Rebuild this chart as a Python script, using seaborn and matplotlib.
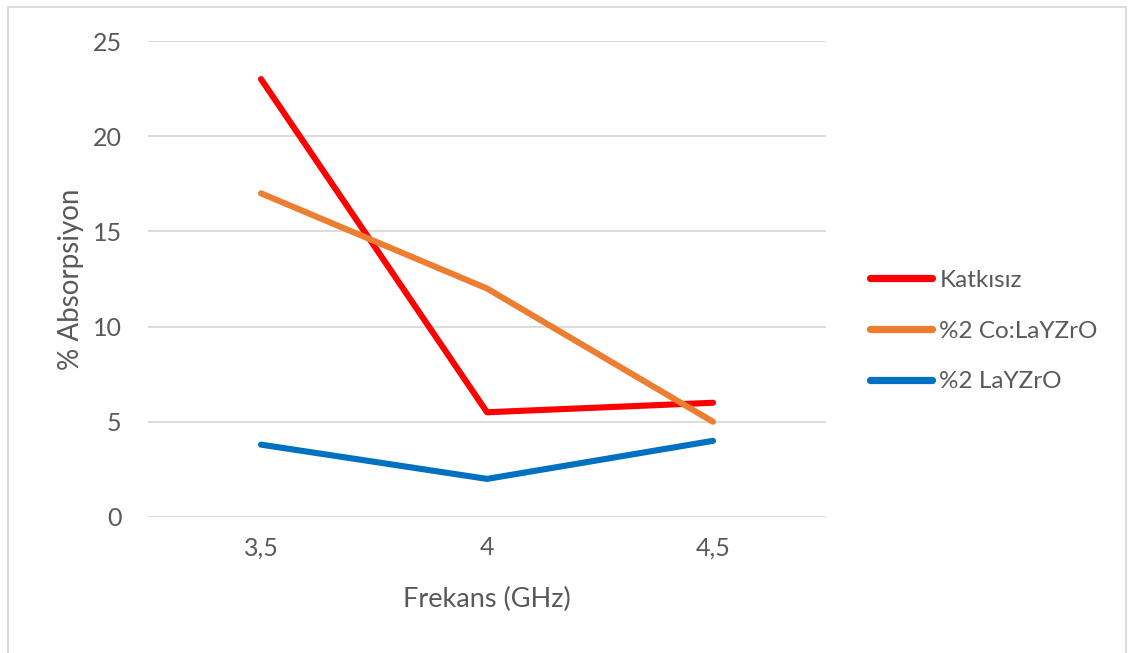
import matplotlib
matplotlib.use("Agg")
import matplotlib.pyplot as plt
import seaborn as sns
import pandas as pd
from matplotlib.patches import Rectangle
from matplotlib.lines import Line2D

frequencies = ["3,5", "4", "4,5"]
katkisiz = [23.0, 5.5, 6.0]
co_layzro = [17.0, 12.0, 5.0]
layzro = [3.8, 2.0, 4.0]

series_names = ["Katkısız", "%2 Co:LaYZrO", "%2 LaYZrO"]
series_colors = ["#FF0000", "#ED7D31", "#0070C0"]

rows = []
for name, vals in zip(series_names, [katkisiz, co_layzro, layzro]):
    for f, v in zip(frequencies, vals):
        rows.append({"Frekans": f, "Absorpsiyon": v, "Seri": name})
df = pd.DataFrame(rows)

sns.set_theme(style="white")
plt.rcParams["font.family"] = ["Lato", "DejaVu Sans"]
text_color = "#595959"

fig = plt.figure(figsize=(11.28, 6.53), dpi=100)
ax = fig.add_axes([0.1312, 0.2083, 0.6011, 0.7289])

sns.lineplot(data=df, x="Frekans", y="Absorpsiyon", hue="Seri",
             hue_order=series_names, palette=series_colors,
             linewidth=4.4, ax=ax, legend=False, sort=False)
for line in ax.lines:
    line.set_solid_capstyle("round")
    line.set_solid_joinstyle("round")

ax.set_xlim(-0.5, 2.5)
ax.set_ylim(0, 25)
ax.set_yticks([0, 5, 10, 15, 20, 25])
ax.yaxis.grid(True, color="#D9D9D9", linewidth=1.3)
ax.set_axisbelow(True)
for s in ax.spines.values():
    s.set_visible(False)
ax.tick_params(axis="both", length=0, labelsize=18, labelcolor=text_color)
ax.tick_params(axis="y", pad=19)
ax.tick_params(axis="x", pad=14)
ax.set_xlabel("Frekans (GHz)", fontsize=19.5, color=text_color, labelpad=20)
ax.set_ylabel("% Absorpsiyon", fontsize=20, color=text_color, labelpad=6)

handles = [Line2D([0], [0], color=c, linewidth=5.2, solid_capstyle="round")
           for c in series_colors]
leg = fig.legend(handles, series_names, loc="center left",
                 bbox_to_anchor=(0.752, 0.493), frameon=False,
                 fontsize=17.5, handlelength=2.55, handletextpad=0.3,
                 labelspacing=1.22)
for t in leg.get_texts():
    t.set_color(text_color)

# outer chart border
fig.patches.append(Rectangle((8 / 1128, -0.01), 1118 / 1128, 1 - 7 / 653 + 0.01,
                             transform=fig.transFigure, fill=False,
                             edgecolor="#D9D9D9", linewidth=1.3))

fig.savefig("out.png", dpi=100)
